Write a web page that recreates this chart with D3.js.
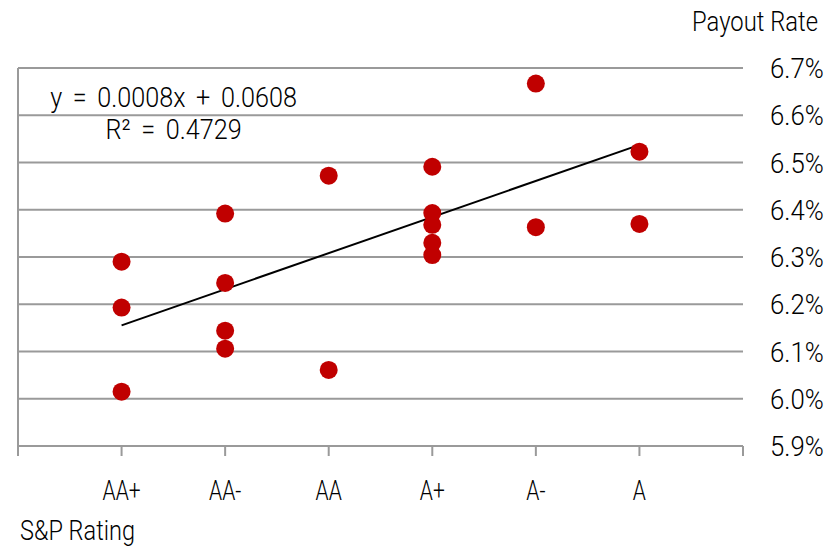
<!DOCTYPE html>
<html>
<head>
<meta charset="utf-8">
<script src="https://cdn.jsdelivr.net/npm/d3@7"></script>
<style>
  html, body { margin: 0; padding: 0; background: #fff; }
  svg text {
    font-family: Roboto, "Noto Sans", sans-serif;
    font-weight: 300;
    fill: #000;
  }
</style>
</head>
<body>
<svg id="chart" width="833" height="557"></svg>
<script>
// S&P rating categories, placed at x = 1..6
const ratings = ["AA+", "AA-", "AA", "A+", "A-", "A"];

// Payout rate (%) of each issue, grouped by its rating position
const ratingIndex = [1, 1, 1, 2, 2, 2, 2, 3, 3, 4, 4, 4, 4, 4, 5, 5, 6, 6];
const payoutRate  = [6.290, 6.193, 6.015,
                     6.392, 6.245, 6.144, 6.106,
                     6.472, 6.061,
                     6.491, 6.393, 6.368, 6.330, 6.304,
                     6.667, 6.363,
                     6.523, 6.370];

// Y axis ticks (%)
const yTicks = [5.9, 6.0, 6.1, 6.2, 6.3, 6.4, 6.5, 6.6, 6.7];

// Linear trend fitted on the rates as fractions: y = slope * x + intercept
const trendSlope = 0.000764;
const trendIntercept = 0.06079;
const trendR2 = 0.4729;

const svg = d3.select("#chart");

const x = d3.scaleLinear().domain([0, 7]).range([18, 743]);
const y = d3.scaleLinear().domain([5.9, 6.7]).range([446, 68]);

const gridColor = "#9a9a9a";
const FONT = 28;      // base font size

// Place a text element at (px, py), squeezed horizontally by sx
function place(sel, px, py, sx) {
  return sel.attr("x", 0).attr("y", 0)
    .attr("transform", `translate(${px},${py}) scale(${sx},1)`);
}

// Horizontal gridlines (the 5.9% line doubles as the category axis)
svg.append("g")
  .selectAll("line")
  .data(yTicks)
  .join("line")
  .attr("x1", x(0))
  .attr("x2", x(7))
  .attr("y1", d => y(d))
  .attr("y2", d => y(d))
  .attr("stroke", gridColor)
  .attr("stroke-width", 2);

// Left vertical axis line
svg.append("line")
  .attr("x1", x(0)).attr("x2", x(0))
  .attr("y1", y(6.7)).attr("y2", y(5.9) + 10)
  .attr("stroke", gridColor)
  .attr("stroke-width", 2);

// Category tick marks below the axis
svg.append("g")
  .selectAll("line")
  .data(d3.range(0, 8))
  .join("line")
  .attr("x1", d => x(d)).attr("x2", d => x(d))
  .attr("y1", y(5.9)).attr("y2", y(5.9) + 10)
  .attr("stroke", gridColor)
  .attr("stroke-width", 2);

// Y tick labels on the right
svg.append("g")
  .selectAll("text")
  .data(yTicks)
  .join("text")
  .each(function (d) {
    place(d3.select(this), 770, y(d) + 10, 0.92);
  })
  .attr("font-size", FONT)
  .text(d => d.toFixed(1) + "%");

// Category labels
svg.append("g")
  .selectAll("text")
  .data(ratings)
  .join("text")
  .each(function (d, i) {
    place(d3.select(this), x(i + 1), 500, 0.75);
  })
  .attr("text-anchor", "middle")
  .attr("font-size", FONT)
  .text(d => d);

// Axis titles
place(svg.append("text"), 818, 31, 0.85)
  .attr("text-anchor", "end")
  .attr("font-size", FONT)
  .text("Payout Rate");

place(svg.append("text"), 20, 540, 0.84)
  .attr("font-size", FONT)
  .text("S&P Rating");

// Trendline across the rated range (converted back to percent)
const trendAt = xv => (trendSlope * xv + trendIntercept) * 100;
svg.append("line")
  .attr("x1", x(1)).attr("y1", y(trendAt(1)))
  .attr("x2", x(6)).attr("y2", y(trendAt(6)))
  .attr("stroke", "#000")
  .attr("stroke-width", 2);

// Data points
svg.append("g")
  .selectAll("circle")
  .data(payoutRate.map((v, i) => ({ r: ratingIndex[i], v })))
  .join("circle")
  .attr("cx", d => x(d.r))
  .attr("cy", d => y(d.v))
  .attr("r", 9)
  .attr("fill", "#C00000");

// Trendline equation and R², centred on one another
const labelCx = 173.5;
place(svg.append("text"), labelCx, 107, 0.9)
  .attr("text-anchor", "middle")
  .attr("font-size", FONT)
  .attr("word-spacing", 5)
  .text(`y = ${trendSlope.toFixed(4)}x + ${trendIntercept.toFixed(4)}`);

place(svg.append("text"), labelCx, 139, 0.9)
  .attr("text-anchor", "middle")
  .attr("font-size", FONT)
  .attr("word-spacing", 5)
  .text(`R² = ${trendR2.toFixed(4)}`);
</script>
</body>
</html>
